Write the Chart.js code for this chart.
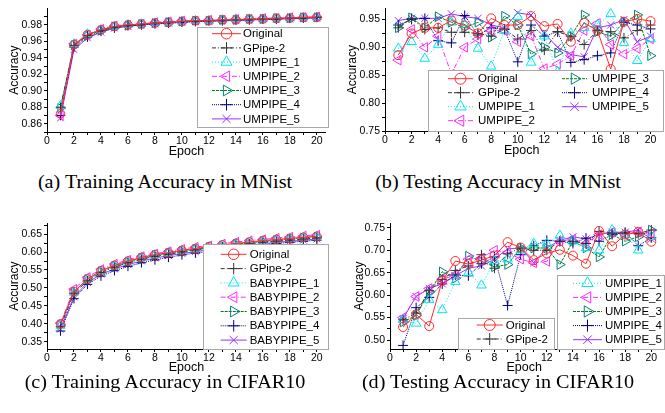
<!DOCTYPE html>
<html>
<head>
<meta charset="utf-8">
<script src="https://cdn.jsdelivr.net/npm/chart.js@4/dist/chart.umd.min.js"></script>
<style>
  body { margin: 0; background: #fff; width: 665px; height: 413px; position: relative; overflow: hidden; }
  canvas { position: absolute; }
  .cap { position: absolute; width: 330px; text-align: center; font-family: "Liberation Serif", serif; font-size: 18px; color: #000; transform: scaleX(1.12); white-space: nowrap; }
</style>
</head>
<body>
<canvas id="chartA" width="332" height="163" style="left:0px;top:0px"></canvas>
<canvas id="chartB" width="332" height="163" style="left:333px;top:0px"></canvas>
<canvas id="chartC" width="332" height="165" style="left:0px;top:215px"></canvas>
<canvas id="chartD" width="332" height="165" style="left:333px;top:215px"></canvas>
<div class="cap" style="left:0px;top:172px">(a) Training Accuracy in MNist</div>
<div class="cap" style="left:333px;top:172px">(b) Testing Accuracy in MNist</div>
<div class="cap" style="left:0px;top:372px">(c) Training Accuracy in CIFAR10</div>
<div class="cap" style="left:333px;top:372px">(d) Testing Accuracy in CIFAR10</div>
<script>
const epochs = [1,2,3,4,5,6,7,8,9,10,11,12,13,14,15,16,17,18,19,20];
const xTicks = [0,2,4,6,8,10,12,14,16,18,20];

// (a) training accuracy, MNist
const namesMnist = ['Original','GPipe-2','UMPIPE_1','UMPIPE_2','UMPIPE_3','UMPIPE_4','UMPIPE_5'];
const trainMnistOriginal = [0.872,0.956,0.968,0.974,0.978,0.980,0.981,0.982,0.983,0.984,0.985,0.985,0.986,0.986,0.987,0.987,0.988,0.988,0.989,0.989];
const trainMnistGpipe    = [0.880,0.955,0.967,0.973,0.977,0.979,0.980,0.982,0.983,0.984,0.984,0.985,0.985,0.986,0.986,0.987,0.987,0.988,0.988,0.989];
const trainMnistU1       = [0.882,0.957,0.969,0.974,0.978,0.980,0.981,0.982,0.983,0.984,0.985,0.985,0.986,0.987,0.987,0.987,0.988,0.988,0.989,0.989];
const trainMnistU2       = [0.870,0.957,0.968,0.975,0.979,0.980,0.981,0.983,0.984,0.985,0.985,0.986,0.986,0.987,0.987,0.988,0.988,0.989,0.989,0.990];
const trainMnistU3       = [0.879,0.955,0.967,0.973,0.978,0.979,0.981,0.982,0.983,0.984,0.985,0.985,0.986,0.986,0.987,0.987,0.988,0.988,0.989,0.989];
const trainMnistU4       = [0.870,0.953,0.965,0.972,0.976,0.979,0.980,0.981,0.982,0.983,0.984,0.985,0.985,0.986,0.986,0.987,0.987,0.988,0.988,0.989];
const trainMnistU5       = [0.867,0.950,0.964,0.971,0.976,0.978,0.980,0.981,0.982,0.983,0.984,0.984,0.985,0.985,0.986,0.986,0.987,0.987,0.988,0.988];
const yTicksA = [0.86,0.88,0.90,0.92,0.94,0.96,0.98];

// (b) testing accuracy, MNist
const testMnistOriginal = [0.886,0.925,0.935,0.935,0.948,0.939,0.925,0.952,0.940,0.940,0.956,0.938,0.942,0.910,0.944,0.930,0.861,0.946,0.951,0.947];
const testMnistGpipe    = [0.935,0.952,0.932,0.935,0.927,0.927,0.925,0.920,0.933,0.915,0.930,0.895,0.928,0.920,0.905,0.930,0.928,0.917,0.930,0.940];
const testMnistU1       = [0.898,0.910,0.880,0.905,0.945,0.940,0.898,0.866,0.930,0.955,0.873,0.920,0.856,0.925,0.935,0.940,0.960,0.908,0.876,0.915];
const testMnistU2       = [0.877,0.932,0.900,0.920,0.852,0.900,0.915,0.930,0.930,0.910,0.920,0.862,0.870,0.885,0.930,0.943,0.905,0.888,0.898,0.915];
const testMnistU3       = [0.935,0.953,0.935,0.955,0.945,0.935,0.945,0.918,0.956,0.940,0.888,0.900,0.890,0.920,0.958,0.928,0.920,0.945,0.958,0.885];
const testMnistU4       = [0.940,0.950,0.952,0.912,0.908,0.957,0.922,0.935,0.932,0.874,0.940,0.920,0.928,0.873,0.878,0.885,0.890,0.945,0.940,0.933];
const testMnistU5       = [0.948,0.952,0.952,0.952,0.960,0.955,0.952,0.940,0.935,0.962,0.958,0.925,0.900,0.887,0.883,0.935,0.940,0.950,0.910,0.920];
const yTicksB = [0.75,0.80,0.85,0.90,0.95];

// (c) training accuracy, CIFAR10
const namesBaby = ['Original','GPipe-2','BABYPIPE_1','BABYPIPE_2','BABYPIPE_3','BABYPIPE_4','BABYPIPE_5'];
const trainCifarOriginal = [0.400,0.490,0.525,0.548,0.563,0.575,0.585,0.593,0.598,0.605,0.610,0.615,0.620,0.624,0.628,0.632,0.635,0.638,0.641,0.644];
const trainCifarGpipe    = [0.392,0.485,0.520,0.543,0.558,0.570,0.580,0.588,0.594,0.600,0.606,0.611,0.615,0.619,0.623,0.627,0.630,0.633,0.636,0.639];
const trainCifarB1       = [0.395,0.487,0.524,0.547,0.562,0.574,0.584,0.592,0.598,0.604,0.609,0.614,0.619,0.623,0.627,0.631,0.635,0.638,0.641,0.643];
const trainCifarB2       = [0.402,0.497,0.530,0.552,0.567,0.578,0.588,0.595,0.602,0.608,0.614,0.618,0.623,0.628,0.632,0.635,0.639,0.642,0.645,0.648];
const trainCifarB3       = [0.397,0.489,0.524,0.546,0.561,0.573,0.583,0.591,0.597,0.603,0.608,0.613,0.618,0.622,0.626,0.630,0.633,0.637,0.640,0.642];
const trainCifarB4       = [0.380,0.470,0.510,0.533,0.548,0.560,0.570,0.578,0.585,0.592,0.597,0.602,0.607,0.612,0.616,0.620,0.624,0.627,0.630,0.633];
const trainCifarB5       = [0.385,0.475,0.515,0.538,0.553,0.565,0.575,0.583,0.590,0.596,0.601,0.606,0.611,0.615,0.619,0.623,0.627,0.630,0.633,0.636];
const yTicksC = [0.35,0.40,0.45,0.50,0.55,0.60,0.65];

// (d) testing accuracy, CIFAR10
const testCifarOriginal = [0.529,0.557,0.531,0.632,0.676,0.669,0.678,0.688,0.718,0.706,0.678,0.693,0.701,0.688,0.670,0.743,0.709,0.735,0.741,0.719];
const testCifarGpipe    = [0.545,0.560,0.610,0.635,0.655,0.665,0.690,0.660,0.692,0.705,0.700,0.700,0.720,0.720,0.715,0.742,0.738,0.738,0.737,0.745];
const testCifarU1       = [0.545,0.537,0.590,0.567,0.630,0.650,0.622,0.675,0.680,0.700,0.715,0.715,0.733,0.720,0.705,0.700,0.745,0.735,0.700,0.730];
const testCifarU2       = [0.550,0.597,0.615,0.635,0.645,0.680,0.683,0.700,0.695,0.680,0.672,0.675,0.720,0.725,0.715,0.735,0.740,0.735,0.740,0.738];
const testCifarU3       = [0.540,0.555,0.607,0.652,0.638,0.687,0.675,0.663,0.668,0.705,0.705,0.705,0.668,0.720,0.705,0.685,0.735,0.720,0.730,0.745];
const testCifarU4       = [0.488,0.572,0.595,0.625,0.645,0.643,0.670,0.685,0.577,0.690,0.710,0.722,0.720,0.715,0.727,0.720,0.735,0.740,0.710,0.728];
const testCifarU5       = [0.548,0.597,0.615,0.625,0.643,0.660,0.665,0.680,0.703,0.705,0.672,0.705,0.722,0.730,0.725,0.735,0.740,0.740,0.745,0.725];
const yTicksD = [0.50,0.55,0.60,0.65,0.70,0.75];

// look of each series (same order in every panel)
const seriesStyles = [
  { line: '#ff2a2a', point: '#ff2a2a', dash: [],           shape: 'circle',   rot: 0,   r: 4.5 },
  { line: '#333333', point: '#333333', dash: [4, 2, 1, 2], shape: 'cross',    rot: 0,   r: 5 },
  { line: '#00e5f0', point: '#00e5f0', dash: [1, 2],       shape: 'triangle', rot: 0,   r: 5.5 },
  { line: '#ff2aff', point: '#ff2aff', dash: [5, 2, 1, 2], shape: 'triangle', rot: -90, r: 5.5 },
  { line: '#008000', point: '#008080', dash: [3, 1],       shape: 'triangle', rot: 90,  r: 5.5 },
  { line: '#000080', point: '#000080', dash: [1, 1],       shape: 'cross',    rot: 0,   r: 5 },
  { line: '#9933ff', point: '#9933ff', dash: [],           shape: 'crossRot', rot: 0,   r: 5 }
];

const FONT = '"Liberation Sans", Arial, sans-serif';

function makeSets(names, series, scale) {
  return series.map((vals, i) => {
    const st = seriesStyles[i];
    return {
      label: names[i],
      data: vals.map((v, k) => ({ x: epochs[k], y: v })),
      borderColor: st.line,
      borderWidth: 1,
      borderDash: st.dash,
      pointStyle: st.shape,
      pointRotation: st.rot,
      pointRadius: st.r * scale,
      pointBorderColor: st.point,
      pointBackgroundColor: 'rgba(0,0,0,0)',
      pointBorderWidth: 1,
      fill: false,
      tension: 0
    };
  });
}

// legend drawn in a white box inside the plot, like Origin does
const boxLegend = {
  id: 'boxLegend',
  afterDatasetsDraw(chart, args, opts) {
    const ctx = chart.ctx;
    (opts.boxes || []).forEach(b => {
      ctx.save();
      ctx.fillStyle = '#fff';
      ctx.strokeStyle = '#a8a8a8';
      ctx.lineWidth = 1;
      ctx.fillRect(b.x1, b.y1, b.x2 - b.x1, b.y2 - b.y1);
      ctx.strokeRect(b.x1 + 0.5, b.y1 + 0.5, b.x2 - b.x1, b.y2 - b.y1);
      b.items.forEach(it => {
        const ds = chart.data.datasets[it.ds];
        ctx.beginPath();
        ctx.setLineDash(ds.borderDash);
        ctx.strokeStyle = ds.borderColor;
        ctx.lineWidth = 1;
        ctx.moveTo(it.x, it.y);
        ctx.lineTo(it.x + b.len, it.y);
        ctx.stroke();
        ctx.setLineDash([]);
        ctx.strokeStyle = ds.pointBorderColor;
        ctx.fillStyle = 'rgba(0,0,0,0)';
        Chart.helpers.drawPoint(ctx, {
          pointStyle: ds.pointStyle, rotation: ds.pointRotation,
          radius: ds.pointRadius + 1, borderWidth: 1
        }, it.x + b.len / 2, it.y);
        ctx.fillStyle = '#000';
        ctx.font = '11.5px ' + FONT;
        ctx.textBaseline = 'middle';
        ctx.textAlign = 'left';
        ctx.fillText(ds.label, it.x + b.len + b.gap, it.y + 0.5);
      });
      ctx.restore();
    });
  }
};

function withMinors(majors) {
  const step = majors[1] - majors[0];
  const out = [];
  majors.forEach(v => { out.push(v); out.push(v + step / 2); });
  out.unshift(majors[0] - step / 2);
  return out;
}

function makeChart(id, names, series, cfg) {
  const yMajors = cfg.yTicks;
  const xAll = withMinors(xTicks).filter(v => v >= 0 && v <= cfg.xMax);
  const yAll = withMinors(yMajors).filter(v => v >= cfg.yMin - 1e-9 && v <= cfg.yMax + 1e-9);
  return new Chart(document.getElementById(id), {
    type: 'line',
    data: { datasets: makeSets(names, series, cfg.markerScale) },
    plugins: [boxLegend],
    options: {
      responsive: false,
      animation: false,
      layout: { padding: cfg.padding },
      plugins: {
        legend: { display: false },
        tooltip: { enabled: false },
        boxLegend: { boxes: cfg.legend }
      },
      scales: {
        x: {
          type: 'linear',
          min: 0,
          max: cfg.xMax,
          afterBuildTicks: s => { s.ticks = xAll.map(v => ({ value: v })); },
          afterFit: s => { s.height = cfg.xHeight; },
          ticks: {
            autoSkip: false, maxRotation: 0, padding: 0, color: '#000',
            font: { family: FONT, size: 10.5 },
            callback: v => xTicks.includes(v) ? String(v) : ''
          },
          grid: { drawOnChartArea: false, tickLength: 3, color: '#000' },
          border: { color: '#000', width: 1 },
          title: {
            display: true, text: 'Epoch', color: '#000',
            font: { family: FONT, size: 12.5 },
            padding: { top: 0, bottom: cfg.xTitlePad }
          }
        },
        y: {
          min: cfg.yMin,
          max: cfg.yMax,
          afterBuildTicks: s => { s.ticks = yAll.map(v => ({ value: v })); },
          afterFit: s => { s.width = cfg.yWidth; },
          ticks: {
            autoSkip: false, padding: 2, color: '#000',
            font: { family: FONT, size: 10.5 },
            callback: v => yMajors.some(m => Math.abs(m - v) < 1e-9) ? v.toFixed(2) : ''
          },
          grid: { drawOnChartArea: false, tickLength: 3, color: '#000' },
          border: { color: '#000', width: 1 },
          title: {
            display: true, text: 'Accuracy', color: '#000',
            font: { family: FONT, size: 12 },
            padding: { top: cfg.yTitlePad, bottom: 0 }
          }
        }
      }
    }
  });
}

function column(x, y0, dy, firstDs, count) {
  const items = [];
  for (let i = 0; i < count; i++) items.push({ ds: firstDs + i, x: x, y: y0 + dy * i });
  return items;
}

makeChart('chartA', namesMnist,
  [trainMnistOriginal, trainMnistGpipe, trainMnistU1, trainMnistU2, trainMnistU3, trainMnistU4, trainMnistU5], {
  yMin: 0.85, yMax: 1.0, yTicks: yTicksA, xMax: 20.66,
  padding: { left: 0, right: 4, top: 6, bottom: 0 },
  yWidth: 47, xHeight: 31, xTitlePad: 3.5, yTitlePad: 7, markerScale: 0.95,
  legend: [{ x1: 197, y1: 27, x2: 328, y2: 127, len: 29, gap: 2,
             items: column(212, 33.7, 14.2, 0, 7) }]
});

makeChart('chartB', namesMnist,
  [testMnistOriginal, testMnistGpipe, testMnistU1, testMnistU2, testMnistU3, testMnistU4, testMnistU5], {
  yMin: 0.75, yMax: 0.97, yTicks: yTicksB, xMax: 20.6,
  padding: { left: 0, right: 2, top: 6, bottom: 0 },
  yWidth: 52, xHeight: 32, xTitlePad: 5, yTitlePad: 12.5, markerScale: 1,
  legend: [{ x1: 95, y1: 70, x2: 330, y2: 131, len: 25, gap: 5,
             items: column(115, 78.7, 14, 0, 4).concat(column(229, 78.7, 14, 4, 3)) }]
});

makeChart('chartC', namesBaby,
  [trainCifarOriginal, trainCifarGpipe, trainCifarB1, trainCifarB2, trainCifarB3, trainCifarB4, trainCifarB5], {
  yMin: 0.33, yMax: 0.68, yTicks: yTicksC, xMax: 20.66,
  padding: { left: 0, right: 4, top: 8, bottom: 0 },
  yWidth: 47, xHeight: 31, xTitlePad: 4.5, yTitlePad: 7, markerScale: 0.95,
  legend: [{ x1: 203, y1: 29, x2: 328, y2: 134, len: 26, gap: 3,
             items: column(220.7, 39.3, 14.3, 0, 7) }]
});

makeChart('chartD', namesMnist,
  [testCifarOriginal, testCifarGpipe, testCifarU1, testCifarU2, testCifarU3, testCifarU4, testCifarU5], {
  yMin: 0.48, yMax: 0.76, yTicks: yTicksD, xMax: 20.55,
  padding: { left: 0, right: 1, top: 8, bottom: 0 },
  yWidth: 57, xHeight: 31, xTitlePad: 4.5, yTitlePad: 19, markerScale: 1,
  legend: [
    { x1: 224, y1: 60, x2: 331, y2: 134, len: 29, gap: 3, items: column(240, 68.3, 14.1, 2, 5) },
    { x1: 125, y1: 103, x2: 221, y2: 134, len: 26, gap: 3, items: column(143.7, 110, 14, 0, 2) }
  ]
});
</script>
</body>
</html>
